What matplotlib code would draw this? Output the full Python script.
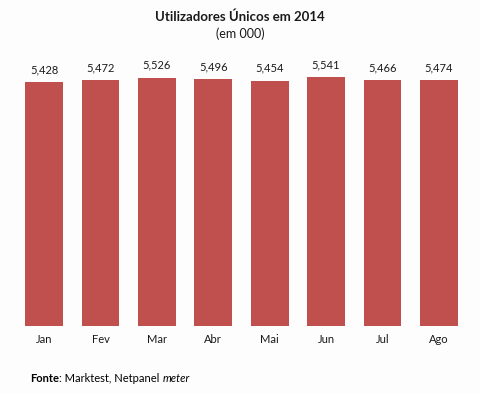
import matplotlib
matplotlib.use("Agg")
import matplotlib.pyplot as plt

months = ["Jan", "Fev", "Mar", "Abr", "Mai", "Jun", "Jul", "Ago"]
values = [5428, 5472, 5526, 5496, 5454, 5541, 5466, 5474]
value_labels = ["5,428", "5,472", "5,526", "5,496", "5,454", "5,541", "5,466", "5,474"]

plt.rcParams['font.family'] = ['Lato', 'DejaVu Sans']

fig = plt.figure(figsize=(4.8, 3.93), dpi=100, facecolor="#fdfdfd")
ax = fig.add_axes([0.033, 0.1705, 0.940, 0.677], facecolor="#fdfdfd")

x = list(range(len(months)))
ax.bar(x, values, width=0.67, color="#c0504d")
for xi, v, lab in zip(x, values, value_labels):
    ax.annotate(lab, (xi, v), xytext=(0, 5), textcoords="offset points",
                ha="center", va="bottom", fontsize=8, color="#1a1a1a")

ax.set_xlim(-0.5, len(months) - 0.5)
ax.set_ylim(0, 5918)
ax.set_xticks(x)
ax.set_xticklabels(months, fontsize=8, color="#1a1a1a")
ax.tick_params(axis="x", length=0, pad=6)
ax.set_yticks([])
for s in ax.spines.values():
    s.set_visible(False)

fig.text(0.5, 1 - 17/393, "Utilizadores Únicos em 2014", ha="center", va="center",
         fontsize=9.5, fontweight="bold", color="#1a1a1a")
fig.text(0.5, 1 - 34/393, "(em 000)", ha="center", va="center",
         fontsize=9, color="#1a1a1a")

t1 = fig.text(30/480, 1 - 378/393, "Fonte", ha="left", va="center",
              fontsize=8, fontweight="bold", color="#000000")
fig.canvas.draw()
r = fig.canvas.get_renderer()
bb = t1.get_window_extent(r)
t2 = fig.text(bb.x1 / 480, 1 - 378/393, ": Marktest, Netpanel ", ha="left", va="center",
              fontsize=8, color="#000000")
bb2 = t2.get_window_extent(r)
fig.text(bb2.x1 / 480, 1 - 378/393, "meter", ha="left", va="center",
         fontsize=8, style="italic", color="#000000")

fig.savefig("out.png", dpi=100, facecolor=fig.get_facecolor())
